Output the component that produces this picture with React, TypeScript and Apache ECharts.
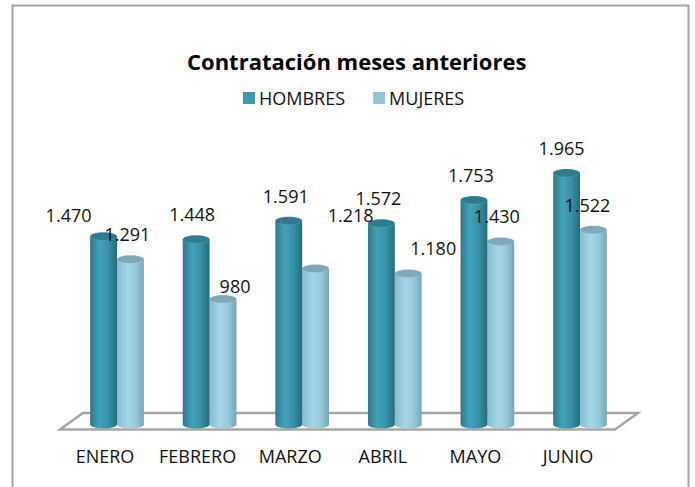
import React, { useEffect, useRef } from "react";
import * as echarts from "echarts";

const MONTHS = ["ENERO", "FEBRERO", "MARZO", "ABRIL", "MAYO", "JUNIO"];
const HOMBRES = [1470, 1448, 1591, 1572, 1753, 1965];
const MUJERES = [1291, 980, 1218, 1180, 1430, 1522];
const SERIES_NAMES = ["HOMBRES", "MUJERES"];
const TITLE = "Contratación meses anteriores";
const Y_MAX = 2000;

// label nudges in px (layout only, relative to default label spot)
const HOMBRES_LABEL_NUDGE = [[-35, 4], [-4, 0], [-3, 0], [-3, 0], [-3, 0], [-5, 0]];
const MUJERES_LABEL_NUDGE = [[-3, 0], [12, 12], [35, -29], [25, 0], [-4, 0], [-6, 0]];

const FONT = "'Open Sans', 'Noto Sans', sans-serif";

const fmt = (v: number) => String(v).replace(/\B(?=(\d{3})+(?!\d))/g, ".");

const STYLES = [
  {
    body: [
      { offset: 0, color: "#2a7b8f" },
      { offset: 0.35, color: "#42a2b9" },
      { offset: 0.65, color: "#3893a9" },
      { offset: 1, color: "#266c7e" },
    ],
    top: "#2e7b8d",
    legend: "#3e98ae",
  },
  {
    body: [
      { offset: 0, color: "#86bccd" },
      { offset: 0.4, color: "#a5d6e6" },
      { offset: 0.7, color: "#97c9da" },
      { offset: 1, color: "#74a6b7" },
    ],
    top: "#7fa9b9",
    legend: "#93c5d6",
  },
];

function geom(sIdx: number, api: any) {
  const cat = api.value(0);
  const v = api.value(1);
  const top = api.coord([cat, v]);
  const base = api.coord([cat, 0]);
  const band = api.size([1, 0])[0];
  const w = band * 0.29;
  const cx = top[0] + (sIdx === 0 ? -w / 2 : w / 2);
  return { v, top, base, w, cx };
}

function makeRender(sIdx: number) {
  return (params: any, api: any) => {
    const { top, base, w, cx } = geom(sIdx, api);
    const ry = 4;
    const st = STYLES[sIdx];
    const grad = new echarts.graphic.LinearGradient(0, 0, 1, 0, st.body);
    return {
      type: "group",
      children: [
        {
          type: "ellipse",
          shape: { cx, cy: base[1], rx: w / 2, ry },
          style: { fill: grad },
        },
        {
          type: "rect",
          shape: { x: cx - w / 2, y: top[1], width: w, height: base[1] - top[1] },
          style: { fill: grad },
        },
        {
          type: "ellipse",
          shape: { cx, cy: top[1], rx: w / 2, ry },
          style: { fill: st.top, stroke: "rgba(255,255,255,0.25)", lineWidth: 0.5 },
        },
      ],
    };
  };
}

function makeLabelRender(sIdx: number, nudges: number[][]) {
  return (params: any, api: any) => {
    const { v, top, cx } = geom(sIdx, api);
    const nd = nudges[params.dataIndex] || [0, 0];
    return {
      type: "text",
      x: cx + nd[0],
      y: top[1] - 25 + nd[1],
      style: {
        text: fmt(v),
        fill: "#111",
        fontSize: 18,
        fontFamily: FONT,
        align: "center",
        verticalAlign: "middle",
      },
    };
  };
}

export default function App() {
  const ref = useRef<HTMLDivElement>(null);
  useEffect(() => {
    if (!ref.current) return;
    const chart = echarts.init(ref.current, undefined, { renderer: "svg" });
    const option: any = {
      animation: false,
      backgroundColor: "#ffffff",
      color: [STYLES[0].legend, STYLES[1].legend],
      title: {
        text: TITLE,
        left: 187,
        top: 50,
        padding: 0,
        textStyle: { fontFamily: FONT, fontWeight: "bold", fontSize: 22, color: "#000" },
      },
      legend: {
        data: SERIES_NAMES,
        left: 243,
        top: 89,
        padding: 0,
        icon: "rect",
        itemWidth: 12,
        itemHeight: 12,
        itemGap: 28,
        textStyle: { fontFamily: FONT, fontSize: 18, color: "#111", padding: [0, 0, 0, -1] },
      },
      graphic: [
        {
          type: "rect",
          z: -10,
          shape: { x: 12.5, y: 5.5, width: 676, height: 500 },
          style: { fill: "none", stroke: "#a3a3a3", lineWidth: 2 },
        },
        {
          type: "polygon",
          z: -5,
          shape: { points: [[83, 413], [638, 413], [615, 429.5], [60, 429.5]] },
          style: { fill: "#ffffff", stroke: "#a6a6a6", lineWidth: 2.5 },
        },
      ],
      grid: { left: 70.7, right: 68.7, top: 168.5, bottom: 62.5 },
      xAxis: {
        type: "category",
        data: MONTHS,
        axisLine: { show: false },
        axisTick: { show: false },
        axisLabel: {
          interval: 0,
          margin: 22,
          fontFamily: FONT,
          fontSize: 18,
          color: "#111",
          padding: [0, 24, 0, 0],
        },
      },
      yAxis: { type: "value", min: 0, max: Y_MAX, show: false },
      series: [
        {
          name: SERIES_NAMES[0],
          type: "custom",
          z: 5,
          renderItem: makeRender(0),
          encode: { x: 0, y: 1 },
          data: HOMBRES.map((v, i) => [i, v]),
        },
        {
          name: SERIES_NAMES[1],
          type: "custom",
          z: 4,
          renderItem: makeRender(1),
          encode: { x: 0, y: 1 },
          data: MUJERES.map((v, i) => [i, v]),
        },
        {
          name: "labels-h",
          type: "custom",
          z: 10,
          silent: true,
          renderItem: makeLabelRender(0, HOMBRES_LABEL_NUDGE),
          encode: { x: 0, y: 1 },
          data: HOMBRES.map((v, i) => [i, v]),
        },
        {
          name: "labels-m",
          type: "custom",
          z: 10,
          silent: true,
          renderItem: makeLabelRender(1, MUJERES_LABEL_NUDGE),
          encode: { x: 0, y: 1 },
          data: MUJERES.map((v, i) => [i, v]),
        },
      ],
    };
    chart.setOption(option);
    return () => chart.dispose();
  }, []);
  return (
    <div
      ref={ref}
      style={{ position: "fixed", left: 0, top: 0, width: 695, height: 487 }}
    />
  );
}
